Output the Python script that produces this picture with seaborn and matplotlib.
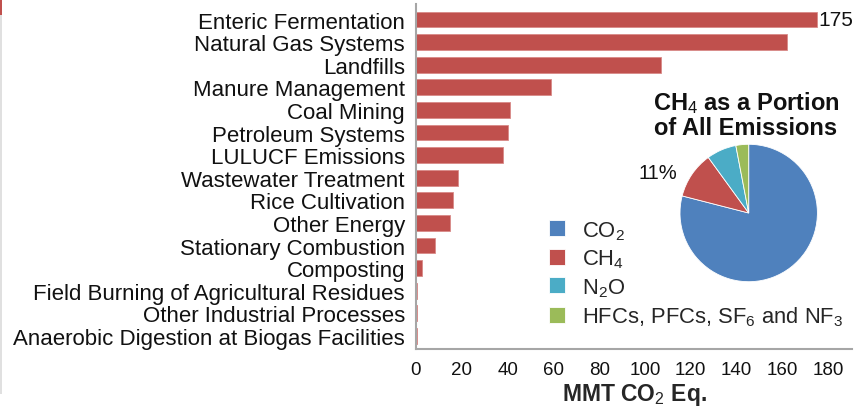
import matplotlib
matplotlib.use("Agg")
import matplotlib.pyplot as plt
from matplotlib.patches import Rectangle
import seaborn as sns
import pandas as pd

# CH4 sources (MMT CO2 Eq.)
sources = ["Enteric Fermentation", "Natural Gas Systems", "Landfills", "Manure Management",
           "Coal Mining", "Petroleum Systems", "LULUCF Emissions", "Wastewater Treatment",
           "Rice Cultivation", "Other Energy", "Stationary Combustion", "Composting",
           "Field Burning of Agricultural Residues", "Other Industrial Processes",
           "Anaerobic Digestion at Biogas Facilities"]
emissions = [175, 162, 107, 59, 41, 40, 38, 18.5, 16, 15, 8.3, 2.6, 0.5, 0.4, 0.3]

# share of all emissions
gases = ["CO$_2$", "CH$_4$", "N$_2$O", "HFCs, PFCs, SF$_6$ and NF$_3$"]
shares = [79, 11, 7, 3]
gas_colors = ["#4F81BD", "#C0504D", "#4BACC6", "#9BBB59"]

sns.set_style("white")
plt.rcParams["font.family"] = ["Liberation Sans", "DejaVu Sans"]
plt.rcParams["mathtext.fontset"] = "custom"
plt.rcParams["mathtext.rm"] = "Liberation Sans"
plt.rcParams["mathtext.it"] = "Liberation Sans"
plt.rcParams["mathtext.bf"] = "Liberation Sans:bold"

df = pd.DataFrame({"source": sources, "value": emissions})

W, H = 862, 410
fig = plt.figure(figsize=(W / 100, H / 100), dpi=100)
ax = fig.add_axes([416 / W, 1 - 350 / H, 436 / W, 345 / H])

sns.barplot(data=df, x="value", y="source", color="#C0504D", width=0.7,
            saturation=1, ax=ax, edgecolor="#D98A88", linewidth=0.6)
ax.set_xlim(0, 190.4)
ax.set_ylim(14.58, -0.69)
ax.set_xticks(range(0, 181, 20))
ax.tick_params(axis="y", length=0, pad=8, labelsize=16, labelcolor="#111111")
ax.tick_params(axis="x", length=0, pad=9, labelsize=13.5, labelcolor="#111111")
ax.set_ylabel("")
ax.set_xlabel("MMT CO$_2$ Eq.", fontsize=16.5, fontweight="bold", labelpad=1.5)
for s in ["top", "right"]:
    ax.spines[s].set_visible(False)
for s in ["left", "bottom"]:
    ax.spines[s].set_color("#A6A6A6")
    ax.spines[s].set_linewidth(1.5)

ax.annotate("175", xy=(emissions[0], 0), xytext=(1, 0), textcoords="offset points",
            va="center", ha="left", fontsize=15, color="#111111")

# inset pie
r = 68.7
pad = r * 1.25
pax = fig.add_axes([(748.7 - pad) / W, 1 - (214 + pad) / H, 2 * pad / W, 2 * pad / H])
wedges, _ = pax.pie(shares, colors=gas_colors, startangle=90, counterclock=False,
                    wedgeprops=dict(edgecolor="white", linewidth=0.6))
pax.set_aspect("equal")

fig.text(746 / W, 1 - 115 / H, "CH$_4$ as a Portion\nof All Emissions", ha="center",
         va="center", fontsize=17, fontweight="bold", linespacing=1.1, color="#111111")
fig.text(658 / W, 1 - 174 / H, "11%", ha="center", va="center", fontsize=14.5, color="#111111")

fig.legend(wedges, gases, loc="upper left", bbox_to_anchor=(549 / W, 1 - 220 / H),
           frameon=False, fontsize=15.8, handlelength=0.75, handleheight=0.75,
           handletextpad=0.75, labelspacing=0.27, borderpad=0, borderaxespad=0)

# thin edge marks from the original crop
fig.patches.append(Rectangle((0, 15 / H), 2 / W, 1 - 15 / H - 0, transform=fig.transFigure,
                             facecolor="#E0E0E0", edgecolor="none"))
fig.patches.append(Rectangle((0, 1 - 16 / H), 2 / W, 16 / H, transform=fig.transFigure,
                             facecolor="#C0504D", edgecolor="none"))

fig.savefig("out.png", dpi=100)
